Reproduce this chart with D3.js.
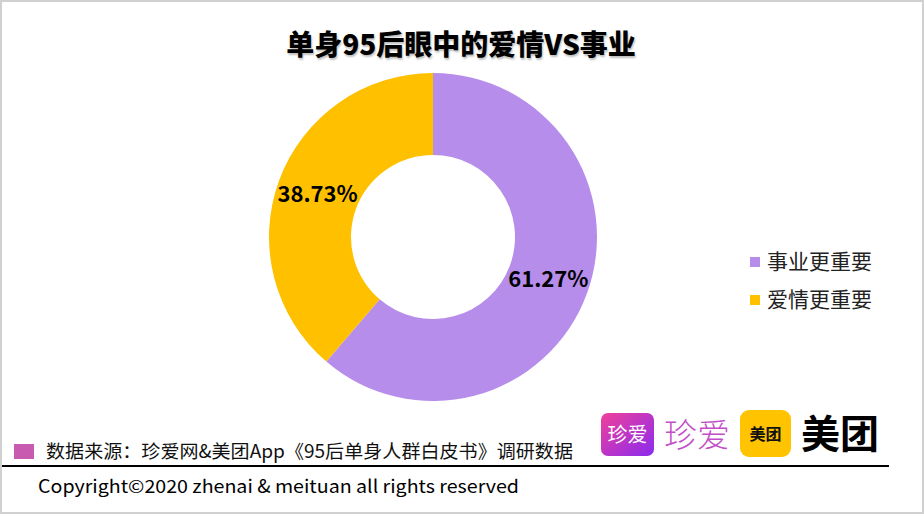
<!DOCTYPE html>
<html><head><meta charset="utf-8">
<script src="https://cdn.jsdelivr.net/npm/d3@7"></script>
<style>
html,body{margin:0;padding:0;background:#fff;}
svg{display:block;}
text{font-family:"Noto Sans CJK SC","Noto Sans",sans-serif;}
</style></head><body>
<svg id="c" width="924" height="514"></svg>
<script>
const title = "单身95后眼中的爱情VS事业";
const categories = ["事业更重要", "爱情更重要"];
const values = [61.27, 38.73];
const colors = ["#B68DEB", "#FFC000"];
const sourceText = "数据来源：珍爱网&美团App《95后单身人群白皮书》调研数据";
const copyrightText = "Copyright©2020 zhenai & meituan all rights reserved";

const svg = d3.select("#c");
// border
svg.append("rect").attr("x",1).attr("y",1).attr("width",922).attr("height",512)
  .attr("fill","#fff").attr("stroke","#d0d0d0").attr("stroke-width",2);

// title
svg.append("text").attr("x",461).attr("y",55).attr("text-anchor","middle")
  .attr("font-size",28).attr("font-weight",900).attr("fill","#000")
  .style("text-shadow","1px 2px 2px rgba(0,0,0,0.25)")
  .text(title);

const cx = 433, cy = 237, rOuter = 164, rInner = 82;
const pie = d3.pie().sort(null).value(d => d)(values);
const arc = d3.arc().innerRadius(rInner).outerRadius(rOuter);
const labelArc = d3.arc().innerRadius(123).outerRadius(123);
const g = svg.append("g").attr("transform",`translate(${cx},${cy})`);
g.selectAll("path").data(pie).join("path")
  .attr("d",arc).attr("fill",(d,i)=>colors[i]);
g.selectAll("text").data(pie).join("text")
  .attr("transform",d=>`translate(${labelArc.centroid(d)})`)
  .attr("text-anchor","middle").attr("dy","0.35em")
  .attr("font-size",22).attr("font-weight",700).attr("fill","#000")
  .text(d=>d.value.toFixed(2)+"%");

// legend
const lg = svg.append("g");
categories.forEach((c,i)=>{
  const y = 262 + i*38;
  lg.append("rect").attr("x",750).attr("y",y-5).attr("width",10).attr("height",10).attr("fill",colors[i]);
  lg.append("text").attr("x",767).attr("y",y).attr("dy","0.35em")
    .attr("font-size",21).attr("fill","#222").text(c);
});

// source
svg.append("rect").attr("x",14).attr("y",444).attr("width",20).attr("height",15).attr("fill","#C85BB0");
svg.append("text").attr("x",46).attr("y",452).attr("dy","0.35em")
  .attr("font-size",18.5).attr("fill","#111").text(sourceText)
  .attr("textLength",527).attr("lengthAdjust","spacingAndGlyphs");

// logos
const defs = svg.append("defs");
const grad = defs.append("linearGradient").attr("id","zg").attr("x1","0").attr("y1","0").attr("x2","1").attr("y2","1");
grad.append("stop").attr("offset","0%").attr("stop-color","#F0409A");
grad.append("stop").attr("offset","100%").attr("stop-color","#8A2BEF");
svg.append("rect").attr("x",601).attr("y",413).attr("width",53).attr("height",43).attr("rx",7).attr("fill","url(#zg)");
svg.append("text").attr("x",627.5).attr("y",435).attr("dy","0.35em").attr("text-anchor","middle")
  .attr("font-size",20).attr("fill","#fff").text("珍爱");
svg.append("text").attr("x",697).attr("y",435).attr("dy","0.35em").attr("text-anchor","middle")
  .attr("font-size",33).attr("font-weight",300).attr("fill","#C24FC8").text("珍爱");
svg.append("rect").attr("x",740).attr("y",410).attr("width",51).attr("height",47).attr("rx",9).attr("fill","#FFC300");
svg.append("text").attr("x",765.5).attr("y",434).attr("dy","0.35em").attr("text-anchor","middle")
  .attr("font-size",16).attr("font-weight",700).attr("fill","#111").text("美团");
svg.append("text").attr("x",840).attr("y",434).attr("dy","0.35em").attr("text-anchor","middle")
  .attr("font-size",39).attr("font-weight",700).attr("fill","#000").text("美团");

// line
svg.append("line").attr("x1",2).attr("x2",889).attr("y1",466).attr("y2",466)
  .attr("stroke","#000").attr("stroke-width",2);

// copyright
svg.append("text").attr("x",38).attr("y",487).attr("dy","0.35em")
  .attr("font-size",18).attr("fill","#000").attr("font-family","'Noto Sans','Open Sans',sans-serif")
  .attr("textLength",481).attr("lengthAdjust","spacingAndGlyphs")
  .text(copyrightText);
</script>
</body></html>
